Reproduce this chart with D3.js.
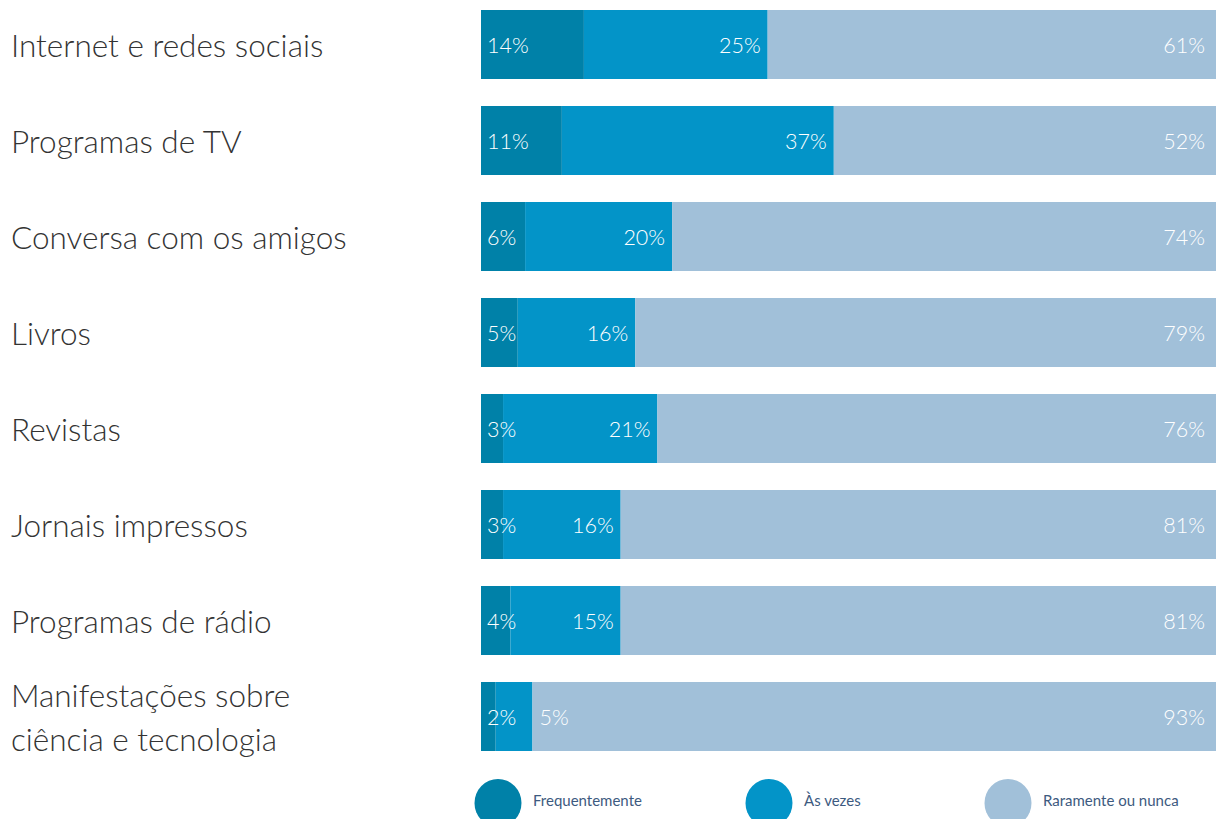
<!DOCTYPE html>
<html><head><meta charset="utf-8">
<script src="https://cdn.jsdelivr.net/npm/d3@7"></script>
<style>body{margin:0;background:#fff}svg{display:block}</style>
</head><body>
<script>
const categories = [
  ["Internet e redes sociais"],
  ["Programas de TV"],
  ["Conversa com os amigos"],
  ["Livros"],
  ["Revistas"],
  ["Jornais impressos"],
  ["Programas de rádio"],
  ["Manifestações sobre", "ciência e tecnologia"]
];
const frequentemente = [14, 11, 6, 5, 3, 3, 4, 2];
const asVezes        = [25, 37, 20, 16, 21, 16, 15, 5];
const raramente      = [61, 52, 74, 79, 76, 81, 81, 93];
const seriesNames = ["Frequentemente", "Às vezes", "Raramente ou nunca"];
const colors = ["#0081A8", "#0394C8", "#A1C0D9"];

const W = 1216, H = 819;
const svg = d3.select("body").append("svg").attr("width", W).attr("height", H);
const font = "Lato, sans-serif";

const keys = categories.map(c => c.join(" "));
const y = d3.scaleBand().domain(keys).range([10, 751]).paddingInner(0.28125).paddingOuter(0);
const x = d3.scaleLinear().domain([0, 100]).range([481, 1216]);

const rows = keys.map((k, i) => ({key: k, vals: [frequentemente[i], asVezes[i], raramente[i]]}));
const g = svg.selectAll("g.row").data(rows).join("g").attr("class", "row");

g.each(function(d, i) {
  const sel = d3.select(this);
  let cum = 0;
  const segs = d.vals.map((v, j) => { const s = {j, v, x0: cum, x1: cum + v}; cum += v; return s; });
  sel.selectAll("rect").data(segs).join("rect")
    .attr("x", s => x(s.x0)).attr("width", s => x(s.x1) - x(s.x0))
    .attr("y", y(d.key)).attr("height", y.bandwidth())
    .attr("fill", s => colors[s.j]);
  const cy = y(d.key) + y.bandwidth() / 2;
  sel.selectAll("text.val").data(segs).join("text").attr("class", "val")
    .attr("font-family", font).attr("font-size", 21.5).attr("font-weight", 300).attr("fill", "#fff")
    .attr("y", cy + 8)
    .attr("x", s => {
      if (s.j === 0) return x(s.x0) + 6;
      if (s.j === 2) return x(s.x1) - 11;
      const w = x(s.x1) - x(s.x0);
      return w < 45 ? x(s.x1) + 7 : x(s.x1) - 7;
    })
    .attr("text-anchor", s => {
      if (s.j === 0) return "start";
      if (s.j === 2) return "end";
      const w = x(s.x1) - x(s.x0);
      return w < 45 ? "start" : "end";
    })
    .text(s => s.v + "%");
});

// category labels
const lab = svg.selectAll("text.cat").data(categories).join("text").attr("class", "cat")
  .attr("font-family", font).attr("font-size", 31.5).attr("font-weight", 300).attr("fill", "#333")
  .attr("x", 11);
lab.each(function(lines, i) {
  const cy = y(keys[i]) + y.bandwidth() / 2;
  const lh = 44;
  const start = cy + 12 - (lines.length - 1) * lh / 2;
  d3.select(this).selectAll("tspan").data(lines).join("tspan")
    .attr("x", 11).attr("y", (l, k) => start + k * lh).text(l => l);
});

// legend
const legX = [498, 769, 1008];
const lg = svg.selectAll("g.leg").data(seriesNames).join("g").attr("class", "leg");
lg.append("ellipse").attr("cx", (d, i) => legX[i]).attr("cy", 803).attr("rx", 23.5).attr("ry", 24)
  .attr("fill", (d, i) => colors[i]);
lg.append("text").attr("x", (d, i) => legX[i] + 35).attr("y", 806)
  .attr("font-family", font).attr("font-size", 15).attr("fill", "#3d5a80")
  .text(d => d);
</script>
</body></html>
